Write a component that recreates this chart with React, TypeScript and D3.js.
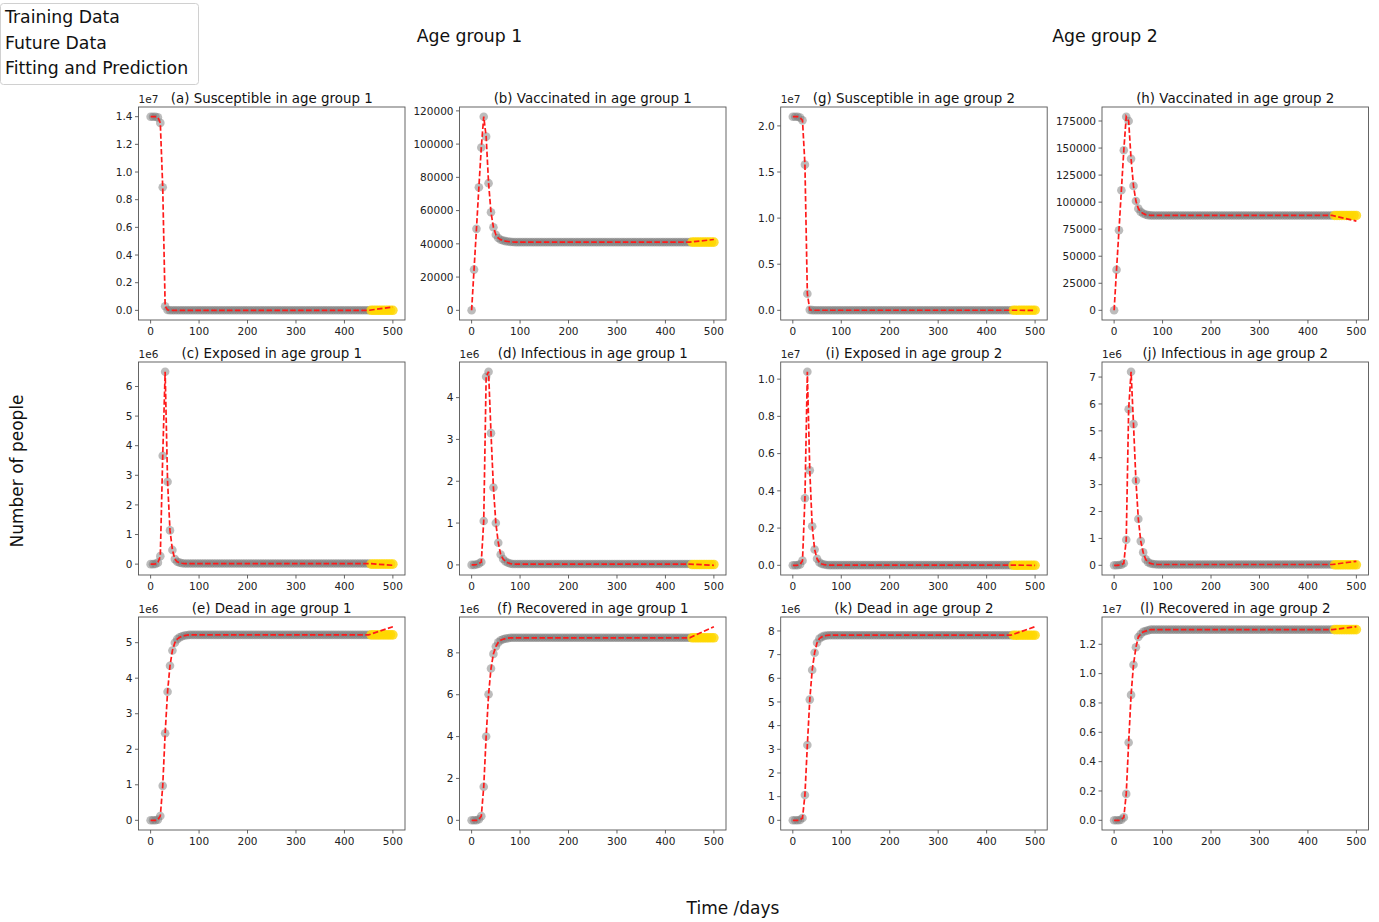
import React from "react";
import * as d3 from "d3";

// ---------- data (values in the panel's displayed units; days step 5) ----------
const STEP = 5;
const TRAIN_END = 450;
const FUTURE_START = 455;
const FUTURE_END = 500;

const xTicks = [0, 100, 200, 300, 400, 500];

// (a) Susceptible age 1, ×1e7
const sus1Early = [1.40, 1.40, 1.40, 1.395, 1.355, 0.89, 0.03, 0.003, 0.001, 0.0005];
const sus1Plateau = 0.0003;
const sus1Future = 0.0003;
const sus1FitEnd = 0.024;
const sus1Ticks = ["0.0", "0.2", "0.4", "0.6", "0.8", "1.0", "1.2", "1.4"];

// (b) Vaccinated age 1
const vac1Early = [0, 24500, 49000, 74000, 98000, 116500, 104500, 76500, 59000, 50000, 45500, 43500, 42500, 42000, 41600, 41400, 41200, 41100];
const vac1Plateau = 41000;
const vac1Future = 41000;
const vac1FitEnd = 42600;
const vac1Ticks = ["0", "20000", "40000", "60000", "80000", "100000", "120000"];

// (c) Exposed age 1, ×1e6
const exp1Early = [0, 0, 0.01, 0.05, 0.27, 3.66, 6.5, 2.78, 1.14, 0.48, 0.17, 0.08, 0.05, 0.03, 0.02];
const exp1Plateau = 0.02;
const exp1Future = 0.0;
const exp1FitEnd = -0.04;
const exp1Ticks = ["0", "1", "2", "3", "4", "5", "6"];

// (d) Infectious age 1, ×1e6
const inf1Early = [0, 0, 0.01, 0.03, 0.07, 1.05, 4.5, 4.62, 3.15, 1.85, 1.0, 0.53, 0.25, 0.14, 0.08, 0.05, 0.03];
const inf1Plateau = 0.02;
const inf1Future = 0.01;
const inf1FitEnd = -0.01;
const inf1Ticks = ["0", "1", "2", "3", "4"];

// (e) Dead age 1, ×1e6
const dead1Early = [0, 0, 0, 0.02, 0.12, 0.97, 2.45, 3.62, 4.35, 4.78, 5.0, 5.1, 5.15, 5.18, 5.2, 5.21];
const dead1Plateau = 5.22;
const dead1Future = 5.22;
const dead1FitEnd = 5.45;
const dead1Ticks = ["0", "1", "2", "3", "4", "5"];

// (f) Recovered age 1, ×1e6
const rec1Early = [0, 0, 0, 0.05, 0.2, 1.6, 4.0, 6.02, 7.25, 7.95, 8.3, 8.5, 8.6, 8.65, 8.68, 8.7];
const rec1Plateau = 8.72;
const rec1Future = 8.72;
const rec1FitEnd = 9.25;
const rec1Ticks = ["0", "2", "4", "6", "8"];

// (g) Susceptible age 2, ×1e7
const sus2Early = [2.10, 2.10, 2.10, 2.09, 2.06, 1.58, 0.18, 0.005, 0.002];
const sus2Plateau = 0.001;
const sus2Future = 0.001;
const sus2FitEnd = 0.0;
const sus2Ticks = ["0.0", "0.5", "1.0", "1.5", "2.0"];

// (h) Vaccinated age 2
const vac2Early = [0, 37500, 74000, 111000, 148000, 179000, 175000, 140000, 115000, 101000, 94000, 91000, 89500, 88500, 88000, 87800];
const vac2Plateau = 87700;
const vac2Future = 87700;
const vac2FitEnd = 82500;
const vac2Ticks = ["0", "25000", "50000", "75000", "100000", "125000", "150000", "175000"];

// (i) Exposed age 2, ×1e7
const exp2Early = [0, 0, 0.001, 0.005, 0.025, 0.36, 1.04, 0.51, 0.21, 0.085, 0.035, 0.015, 0.007, 0.004, 0.002];
const exp2Plateau = 0.001;
const exp2Future = 0.0;
const exp2FitEnd = 0.0;
const exp2Ticks = ["0.0", "0.2", "0.4", "0.6", "0.8", "1.0"];

// (j) Infectious age 2, ×1e6
const inf2Early = [0, 0, 0.01, 0.02, 0.08, 0.95, 5.8, 7.2, 5.25, 3.15, 1.72, 0.9, 0.48, 0.22, 0.12, 0.07, 0.05, 0.04];
const inf2Plateau = 0.03;
const inf2Future = 0.02;
const inf2FitEnd = 0.15;
const inf2Ticks = ["0", "1", "2", "3", "4", "5", "6", "7"];

// (k) Dead age 2, ×1e6
const dead2Early = [0, 0, 0, 0.02, 0.1, 1.07, 3.18, 5.1, 6.35, 7.08, 7.5, 7.68, 7.75, 7.79, 7.81];
const dead2Plateau = 7.82;
const dead2Future = 7.82;
const dead2FitEnd = 8.18;
const dead2Ticks = ["0", "1", "2", "3", "4", "5", "6", "7", "8"];

// (l) Recovered age 2, ×1e7
const rec2Early = [0, 0, 0, 0.005, 0.02, 0.18, 0.53, 0.855, 1.06, 1.18, 1.25, 1.27, 1.285, 1.29, 1.295];
const rec2Plateau = 1.30;
const rec2Future = 1.30;
const rec2FitEnd = 1.32;
const rec2Ticks = ["0.0", "0.2", "0.4", "0.6", "0.8", "1.0", "1.2"];

const legendLabels = ["Training Data", "Future Data", "Fitting and Prediction"];
const groupTitles = ["Age group 1", "Age group 2"];

type PanelDef = {
  title: string;
  early: number[];
  plateau: number;
  future: number;
  fitEnd: number;
  ticks: string[];
  exponent: string;
  col: number;
  row: number;
};

const panels: PanelDef[] = [
  { title: "(a) Susceptible in age group 1", early: sus1Early, plateau: sus1Plateau, future: sus1Future, fitEnd: sus1FitEnd, ticks: sus1Ticks, exponent: "1e7", col: 0, row: 0 },
  { title: "(b) Vaccinated in age group 1", early: vac1Early, plateau: vac1Plateau, future: vac1Future, fitEnd: vac1FitEnd, ticks: vac1Ticks, exponent: "", col: 1, row: 0 },
  { title: "(c) Exposed in age group 1", early: exp1Early, plateau: exp1Plateau, future: exp1Future, fitEnd: exp1FitEnd, ticks: exp1Ticks, exponent: "1e6", col: 0, row: 1 },
  { title: "(d) Infectious in age group 1", early: inf1Early, plateau: inf1Plateau, future: inf1Future, fitEnd: inf1FitEnd, ticks: inf1Ticks, exponent: "1e6", col: 1, row: 1 },
  { title: "(e) Dead in age group 1", early: dead1Early, plateau: dead1Plateau, future: dead1Future, fitEnd: dead1FitEnd, ticks: dead1Ticks, exponent: "1e6", col: 0, row: 2 },
  { title: "(f) Recovered in age group 1", early: rec1Early, plateau: rec1Plateau, future: rec1Future, fitEnd: rec1FitEnd, ticks: rec1Ticks, exponent: "1e6", col: 1, row: 2 },
  { title: "(g) Susceptible in age group 2", early: sus2Early, plateau: sus2Plateau, future: sus2Future, fitEnd: sus2FitEnd, ticks: sus2Ticks, exponent: "1e7", col: 2, row: 0 },
  { title: "(h) Vaccinated in age group 2", early: vac2Early, plateau: vac2Plateau, future: vac2Future, fitEnd: vac2FitEnd, ticks: vac2Ticks, exponent: "", col: 3, row: 0 },
  { title: "(i) Exposed in age group 2", early: exp2Early, plateau: exp2Plateau, future: exp2Future, fitEnd: exp2FitEnd, ticks: exp2Ticks, exponent: "1e7", col: 2, row: 1 },
  { title: "(j) Infectious in age group 2", early: inf2Early, plateau: inf2Plateau, future: inf2Future, fitEnd: inf2FitEnd, ticks: inf2Ticks, exponent: "1e6", col: 3, row: 1 },
  { title: "(k) Dead in age group 2", early: dead2Early, plateau: dead2Plateau, future: dead2Future, fitEnd: dead2FitEnd, ticks: dead2Ticks, exponent: "1e6", col: 2, row: 2 },
  { title: "(l) Recovered in age group 2", early: rec2Early, plateau: rec2Plateau, future: rec2Future, fitEnd: rec2FitEnd, ticks: rec2Ticks, exponent: "1e7", col: 3, row: 2 },
];

// ---------- layout ----------
const WIDTH = 1379;
const HEIGHT = 922;
const COL_LEFT = [138.5, 459.5, 780.7, 1102];
const ROW_TOP = [107, 362, 617];
const PW = 266.5;
const PH = 213;
const FONT = "'DejaVu Sans', sans-serif";
const SPINE = "#555";
const TEXT = "#222";

function buildTraining(p: PanelDef): [number, number][] {
  const out: [number, number][] = [];
  for (let d = 0, i = 0; d <= TRAIN_END; d += STEP, i++) {
    out.push([d, i < p.early.length ? p.early[i] : p.plateau]);
  }
  return out;
}
function buildFuture(p: PanelDef): [number, number][] {
  const out: [number, number][] = [];
  for (let d = FUTURE_START; d <= FUTURE_END; d += STEP) out.push([d, p.future]);
  return out;
}

function Panel({ p }: { p: PanelDef }) {
  const left = COL_LEFT[p.col];
  const top = ROW_TOP[p.row];
  const train = buildTraining(p);
  const future = buildFuture(p);
  const fit: [number, number][] = [...train, [FUTURE_END, p.fitEnd]];

  const x = d3.scaleLinear().domain([-25, 525]).range([left, left + PW]);
  const vals = [...train.map((d) => d[1]), ...future.map((d) => d[1]), p.fitEnd];
  const mn = d3.min(vals)!;
  const mx = d3.max(vals)!;
  const pad = (mx - mn) * 0.05;
  const y = d3.scaleLinear().domain([mn - pad, mx + pad]).range([top + PH, top]);
  const line = d3.line<[number, number]>().x((d) => x(d[0])).y((d) => y(d[1]));

  return (
    <g>
      {train.map((d, i) => (
        <circle key={"t" + i} cx={x(d[0])} cy={y(d[1])} r={4.3} fill="#7a7a7a" fillOpacity={0.5} />
      ))}
      {future.map((d, i) => (
        <circle key={"f" + i} cx={x(d[0])} cy={y(d[1])} r={4.8} fill="#ffd700" fillOpacity={0.8} />
      ))}
      <path d={line(fit) || ""} fill="none" stroke="#ff1a1a" strokeWidth={1.7} strokeDasharray="5.5 2.4" />
      <rect x={left} y={top} width={PW} height={PH} fill="none" stroke={SPINE} strokeWidth={0.9} />
      {xTicks.map((t) => (
        <g key={"xt" + t}>
          <line x1={x(t)} x2={x(t)} y1={top + PH} y2={top + PH + 3.5} stroke={SPINE} strokeWidth={0.9} />
          <text x={x(t)} y={top + PH + 14.5} fontSize={10.5} fontFamily={FONT} fill={TEXT} textAnchor="middle">{t}</text>
        </g>
      ))}
      {p.ticks.map((t) => {
        const v = parseFloat(t);
        return (
          <g key={"yt" + t}>
            <line x1={left - 3.5} x2={left} y1={y(v)} y2={y(v)} stroke={SPINE} strokeWidth={0.9} />
            <text x={left - 6} y={y(v) + 3.7} fontSize={10.5} fontFamily={FONT} fill={TEXT} textAnchor="end">{t}</text>
          </g>
        );
      })}
      {p.exponent && (
        <text x={left} y={top - 4} fontSize={10.5} fontFamily={FONT} fill={TEXT}>{p.exponent}</text>
      )}
      <text x={left + PW / 2} y={top - 4.5} fontSize={13.4} fontFamily={FONT} fill="#111" textAnchor="middle">{p.title}</text>
    </g>
  );
}

export default function App() {
  return (
    <svg width={WIDTH} height={HEIGHT} style={{ position: "absolute", left: 0, top: 0, background: "#fff" }}>
      <rect x={0} y={0} width={WIDTH} height={HEIGHT} fill="#fff" />
      {panels.map((p) => (
        <Panel key={p.title} p={p} />
      ))}
      <text x={469.5} y={42} fontSize={17.3} fontFamily={FONT} fill="#111" textAnchor="middle">{groupTitles[0]}</text>
      <text x={1105} y={42} fontSize={17.3} fontFamily={FONT} fill="#111" textAnchor="middle">{groupTitles[1]}</text>
      <text x={733} y={914} fontSize={17} fontFamily={FONT} fill="#111" textAnchor="middle">Time /days</text>
      <text transform="translate(23,471) rotate(-90)" fontSize={17} fontFamily={FONT} fill="#111" textAnchor="middle">Number of people</text>
      <rect x={0.5} y={3.5} width={198} height={81} rx={3} fill="#fff" stroke="#d0d0d0" strokeWidth={1} />
      {legendLabels.map((l, i) => (
        <text key={l} x={5} y={23 + i * 25.5} fontSize={17.3} fontFamily={FONT} fill="#111">{l}</text>
      ))}
    </svg>
  );
}
